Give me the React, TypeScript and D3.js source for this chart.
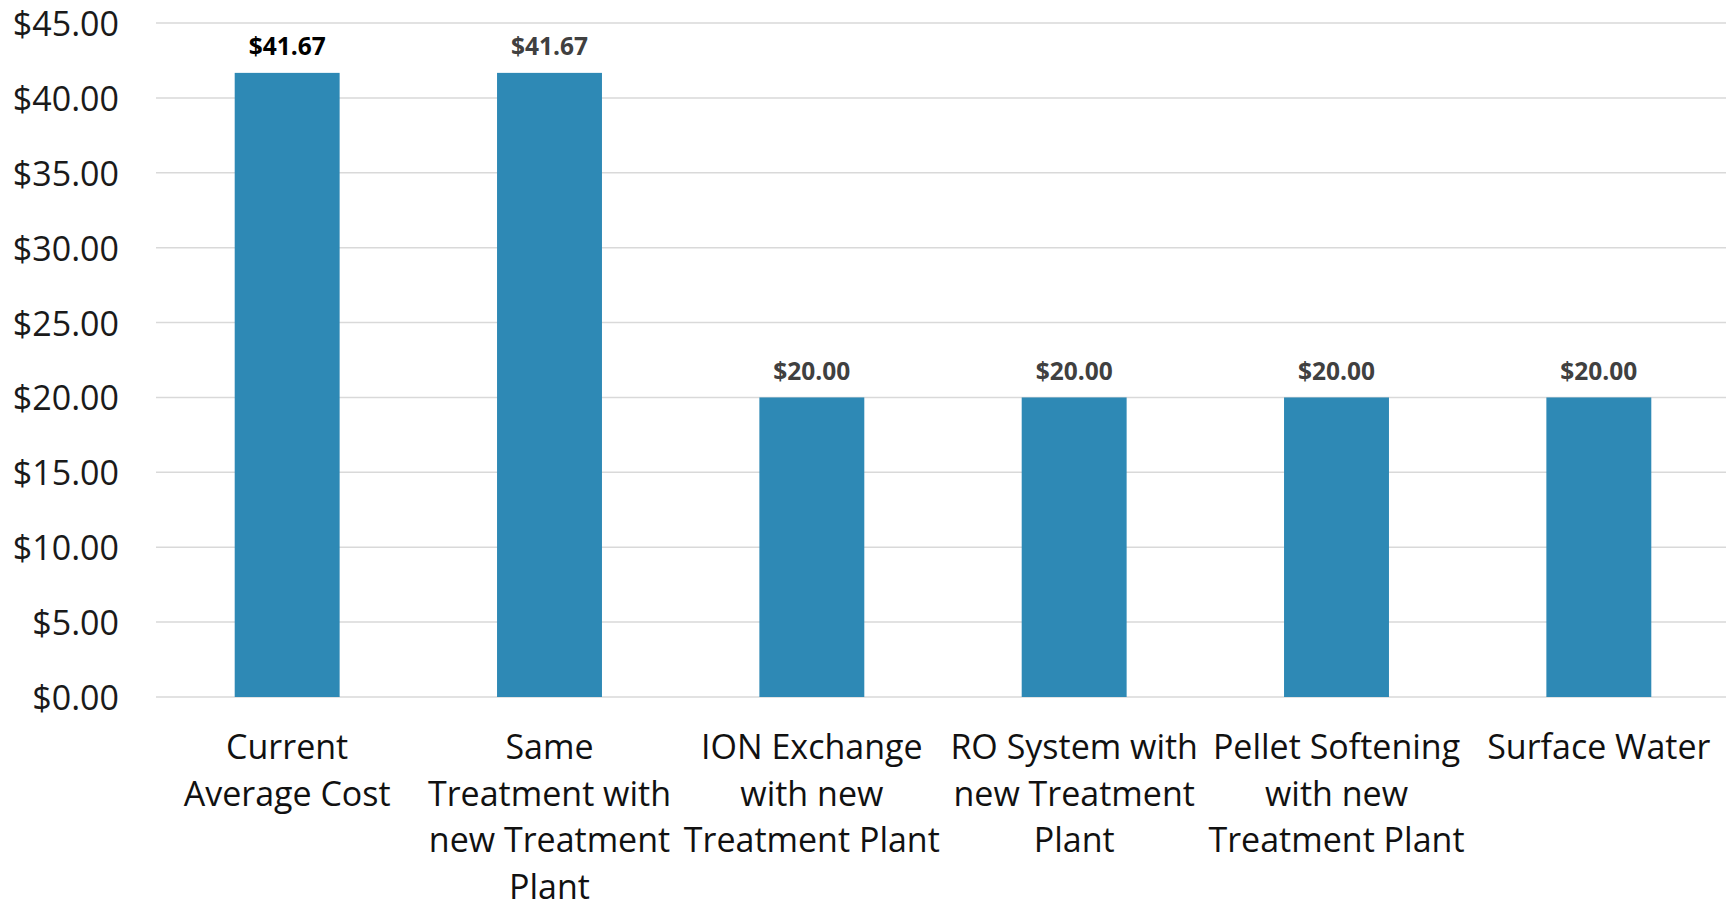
import React from "react";
import * as d3 from "d3";

const categories: string[][] = [
  ["Current", "Average Cost"],
  ["Same", "Treatment with", "new Treatment", "Plant"],
  ["ION Exchange", "with new", "Treatment Plant"],
  ["RO System with", "new Treatment", "Plant"],
  ["Pellet Softening", "with new", "Treatment Plant"],
  ["Surface Water"],
];
const values: number[] = [41.67, 41.67, 20.0, 20.0, 20.0, 20.0];
const yTicks: number[] = [0, 5, 10, 15, 20, 25, 30, 35, 40, 45];

const W = 1726;
const H = 901;
const FONT = "'Open Sans', 'Noto Sans', sans-serif";

export default function App() {
  const x = d3
    .scaleBand<number>()
    .domain(values.map((_, i) => i))
    .range([156, 1730])
    .paddingInner(0.6)
    .paddingOuter(0.3);
  const y = d3.scaleLinear().domain([0, 45]).range([697, 23]);
  const fmt = (v: number) => "$" + d3.format(",.2f")(v);

  return (
    <svg
      width={W}
      height={H}
      style={{ position: "absolute", left: 0, top: 0, background: "#fff" }}
      fontFamily={FONT}
    >
      {yTicks.map((t) => (
        <g key={t}>
          <line
            x1={156}
            x2={W}
            y1={y(t)}
            y2={y(t)}
            stroke="#d9d9d9"
            strokeWidth={1.5}
          />
          <text
            x={119}
            y={y(t)}
            textAnchor="end"
            dominantBaseline="central"
            fontSize={34}
            fill="#1a1a1a"
          >
            {fmt(t)}
          </text>
        </g>
      ))}
      {values.map((v, i) => (
        <g key={i}>
          <rect
            x={x(i)}
            y={y(v)}
            width={x.bandwidth()}
            height={y(0) - y(v)}
            fill="#2e89b5"
          />
          <text
            x={(x(i) as number) + x.bandwidth() / 2}
            y={y(v) - 27}
            textAnchor="middle"
            dominantBaseline="central"
            fontSize={24.5}
            fontWeight={700}
            fill={i === 0 ? "#000" : "#404040"}
          >
            {fmt(v)}
          </text>
          <text
            x={(x(i) as number) + x.bandwidth() / 2}
            textAnchor="middle"
            fontSize={34}
            fill="#111"
          >
            {categories[i].map((line, j) => (
              <tspan
                key={j}
                x={(x(i) as number) + x.bandwidth() / 2}
                y={746 + j * 46.5}
                dominantBaseline="central"
              >
                {line}
              </tspan>
            ))}
          </text>
        </g>
      ))}
    </svg>
  );
}
